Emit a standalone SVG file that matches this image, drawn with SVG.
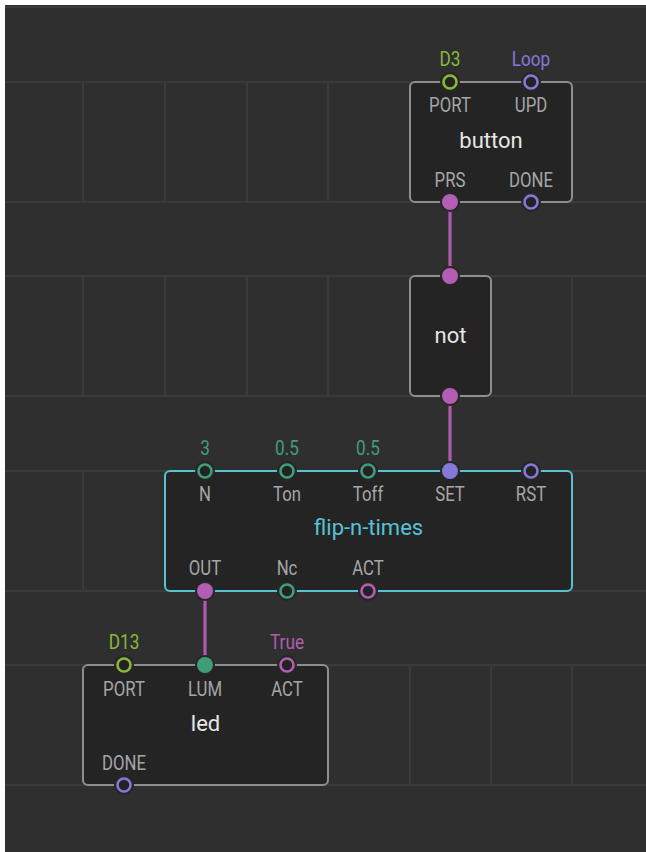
<svg xmlns="http://www.w3.org/2000/svg" width="646" height="852" viewBox="0 0 646 852">
<defs>
<style>
text{font-family:Roboto,"Liberation Sans",sans-serif;text-anchor:middle}
.grid line{stroke:#3a3a3a;stroke-width:2}
.node rect.body{fill:#242424;stroke:#8e8e8e;stroke-width:2}
.node.cyan rect.body{stroke:#57c2d4}
.title{font-size:22px;fill:#e6e6e6}
.ctitle{font-size:22px;fill:#57c2d4}
.lbl{font-size:19.5px;fill:#a6a6a6;transform-box:fill-box;transform-origin:center;transform:scaleX(0.86)}
.val{font-size:20px;transform-box:fill-box;transform-origin:center;transform:scaleX(0.86)}
.halo{fill:#262626}
.pin{fill:#232323;stroke-width:2.6}
.g{stroke:#8ab83a}.gt{fill:#8ab83a}
.p{stroke:#8478d8}.pt{fill:#8478d8}
.m{stroke:#b35db4}.mt{fill:#b35db4}
.t{stroke:#3f9e78}.tt{fill:#3f9e78}
.link{stroke:#b05aaf;stroke-width:3.2;fill:none}
</style>
</defs>
<rect x="0" y="0" width="646" height="852" fill="#ffffff"/>
<rect x="5" y="5" width="641" height="847" fill="#2f2f2f"/>
<g class="grid">
<line x1="5" y1="7" x2="646" y2="7" stroke-width="1"/>
<line x1="5" y1="82" x2="646" y2="82"/>
<line x1="5" y1="202" x2="646" y2="202"/>
<line x1="5" y1="276" x2="646" y2="276"/>
<line x1="5" y1="396" x2="646" y2="396"/>
<line x1="5" y1="471" x2="646" y2="471"/>
<line x1="5" y1="591" x2="646" y2="591"/>
<line x1="5" y1="665" x2="646" y2="665"/>
<line x1="5" y1="785" x2="646" y2="785"/>
<g>
<line x1="83" y1="82" x2="83" y2="202"/><line x1="165" y1="82" x2="165" y2="202"/><line x1="247" y1="82" x2="247" y2="202"/><line x1="328" y1="82" x2="328" y2="202"/><line x1="410" y1="82" x2="410" y2="202"/><line x1="491" y1="82" x2="491" y2="202"/><line x1="572" y1="82" x2="572" y2="202"/>
<line x1="83" y1="276" x2="83" y2="396"/><line x1="165" y1="276" x2="165" y2="396"/><line x1="247" y1="276" x2="247" y2="396"/><line x1="328" y1="276" x2="328" y2="396"/><line x1="410" y1="276" x2="410" y2="396"/><line x1="491" y1="276" x2="491" y2="396"/><line x1="572" y1="276" x2="572" y2="396"/>
<line x1="83" y1="471" x2="83" y2="591"/><line x1="165" y1="471" x2="165" y2="591"/><line x1="247" y1="471" x2="247" y2="591"/><line x1="328" y1="471" x2="328" y2="591"/><line x1="410" y1="471" x2="410" y2="591"/><line x1="491" y1="471" x2="491" y2="591"/><line x1="572" y1="471" x2="572" y2="591"/>
<line x1="83" y1="665" x2="83" y2="785"/><line x1="165" y1="665" x2="165" y2="785"/><line x1="247" y1="665" x2="247" y2="785"/><line x1="328" y1="665" x2="328" y2="785"/><line x1="410" y1="665" x2="410" y2="785"/><line x1="491" y1="665" x2="491" y2="785"/><line x1="572" y1="665" x2="572" y2="785"/>
</g>
</g>

<g id="connectors">
<line class="link" x1="450" y1="202" x2="450" y2="276"/>
<line class="link" x1="450" y1="396" x2="450" y2="471"/>
<line class="link" x1="205" y1="591" x2="205" y2="665"/>
</g>

<g id="button" class="node">
<rect class="body" x="410" y="82" width="162" height="120" rx="5"/>
<text class="title" x="491" y="148">button</text>
<text class="val gt" x="450" y="66">D3</text>
<text class="val pt" x="531" y="66">Loop</text>
<text class="lbl" x="450" y="112">PORT</text>
<text class="lbl" x="531" y="112">UPD</text>
<text class="lbl" x="450" y="187">PRS</text>
<text class="lbl" x="531" y="187">DONE</text>
<circle class="halo" cx="450" cy="82" r="10"/><circle class="pin g" cx="450" cy="82" r="6.5"/>
<circle class="halo" cx="531" cy="82" r="10"/><circle class="pin p" cx="531" cy="82" r="6.5"/>
<circle class="halo" cx="450" cy="202" r="10"/><circle class="mt" cx="450" cy="202" r="8"/>
<circle class="halo" cx="531" cy="202" r="10"/><circle class="pin p" cx="531" cy="202" r="6.5"/>
</g>

<g id="not" class="node">
<rect class="body" x="410" y="276" width="81" height="120" rx="5"/>
<text class="title" x="450.5" y="343">not</text>
<circle class="halo" cx="450" cy="276" r="10"/><circle class="mt" cx="450" cy="276" r="8"/>
<circle class="halo" cx="450" cy="396" r="10"/><circle class="mt" cx="450" cy="396" r="8"/>
</g>

<g id="flip-n-times" class="node cyan">
<rect class="body" x="165" y="471" width="407" height="120" rx="5"/>
<text class="ctitle" x="368.5" y="535">flip-n-times</text>
<text class="val tt" x="205" y="455">3</text>
<text class="val tt" x="287" y="455">0.5</text>
<text class="val tt" x="368" y="455">0.5</text>
<text class="lbl" x="205" y="501">N</text>
<text class="lbl" x="287" y="501">Ton</text>
<text class="lbl" x="368" y="501">Toff</text>
<text class="lbl" x="450" y="501">SET</text>
<text class="lbl" x="531" y="501">RST</text>
<text class="lbl" x="205" y="575">OUT</text>
<text class="lbl" x="287" y="575">Nc</text>
<text class="lbl" x="368" y="575">ACT</text>
<circle class="halo" cx="205" cy="471" r="10"/><circle class="pin t" cx="205" cy="471" r="6.5"/>
<circle class="halo" cx="287" cy="471" r="10"/><circle class="pin t" cx="287" cy="471" r="6.5"/>
<circle class="halo" cx="368" cy="471" r="10"/><circle class="pin t" cx="368" cy="471" r="6.5"/>
<circle class="halo" cx="450" cy="471" r="10"/><circle class="pt" cx="450" cy="471" r="8"/>
<circle class="halo" cx="531" cy="471" r="10"/><circle class="pin p" cx="531" cy="471" r="6.5"/>
<circle class="halo" cx="205" cy="591" r="10"/><circle class="mt" cx="205" cy="591" r="8"/>
<circle class="halo" cx="287" cy="591" r="10"/><circle class="pin t" cx="287" cy="591" r="6.5"/>
<circle class="halo" cx="368" cy="591" r="10"/><circle class="pin m" cx="368" cy="591" r="6.5"/>
</g>

<g id="led" class="node">
<rect class="body" x="83" y="665" width="245" height="120" rx="5"/>
<text class="title" x="205.5" y="731">led</text>
<text class="val gt" x="124" y="649">D13</text>
<text class="val mt" x="287" y="649">True</text>
<text class="lbl" x="124" y="696">PORT</text>
<text class="lbl" x="205" y="696">LUM</text>
<text class="lbl" x="287" y="696">ACT</text>
<text class="lbl" x="124" y="770">DONE</text>
<circle class="halo" cx="124" cy="665" r="10"/><circle class="pin g" cx="124" cy="665" r="6.5"/>
<circle class="halo" cx="205" cy="665" r="10"/><circle class="tt" cx="205" cy="665" r="8"/>
<circle class="halo" cx="287" cy="665" r="10"/><circle class="pin m" cx="287" cy="665" r="6.5"/>
<circle class="halo" cx="124" cy="785" r="10"/><circle class="pin p" cx="124" cy="785" r="6.5"/>
</g>
</svg>
